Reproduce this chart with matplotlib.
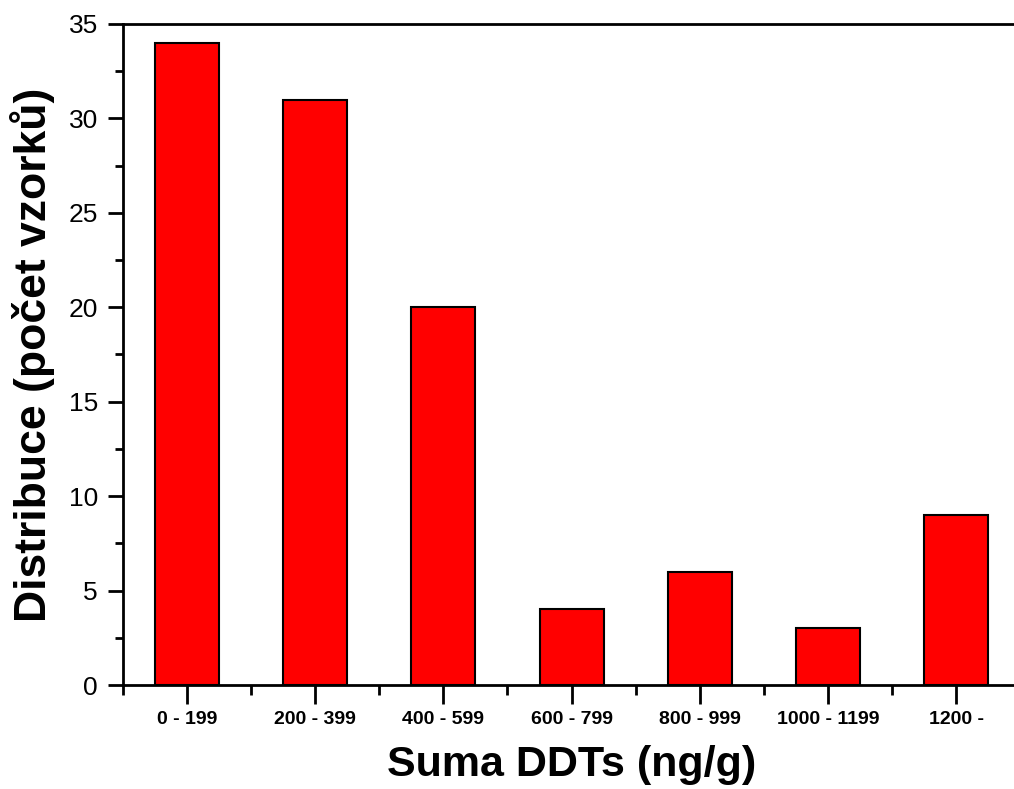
import matplotlib
matplotlib.use('Agg')
import matplotlib.pyplot as plt
from matplotlib.ticker import MultipleLocator, FixedLocator

kategorie = ['0 - 199', '200 - 399', '400 - 599', '600 - 799', '800 - 999', '1000 - 1199', '1200 -']
pocet = [34, 31, 20, 4, 6, 3, 9]

plt.rcParams['font.family'] = ['Liberation Sans', 'DejaVu Sans']

fig = plt.figure(figsize=(10.14, 7.89), dpi=100)
ax = fig.add_axes([0.1213, 0.1318, 0.8847, 0.8378])

x = list(range(len(kategorie)))
ax.bar(x, pocet, width=0.5, color='#ff0000', edgecolor='black', linewidth=1.5, zorder=2)

ax.set_xlim(-0.5, len(kategorie) - 0.5)
ax.set_ylim(0, 35)

# osy
for s in ['left', 'bottom', 'top']:
    ax.spines[s].set_linewidth(2)
ax.spines['right'].set_visible(False)

ax.set_xticks(x)
ax.set_xticklabels(kategorie, fontsize=14, fontweight='bold')
ax.xaxis.set_minor_locator(FixedLocator([i - 0.5 for i in range(len(kategorie) + 1)]))
ax.yaxis.set_major_locator(MultipleLocator(5))
ax.yaxis.set_minor_locator(MultipleLocator(2.5))
ax.tick_params(axis='y', which='major', direction='out', length=11, width=2, labelsize=19, pad=7)
ax.tick_params(axis='y', which='minor', direction='out', length=6, width=2)
ax.tick_params(axis='x', which='major', direction='out', length=14, width=2, pad=5)
ax.tick_params(axis='x', which='minor', direction='out', length=7, width=2)
ax.tick_params(top=False, right=False, which='both')

ax.set_xlabel('Suma DDTs (ng/g)', fontsize=31, fontweight='bold', labelpad=12)
ax.set_ylabel('Distribuce (počet vzorků)', fontsize=32, fontweight='bold', labelpad=10)

plt.savefig('out.png', dpi=100)
plt.close()
